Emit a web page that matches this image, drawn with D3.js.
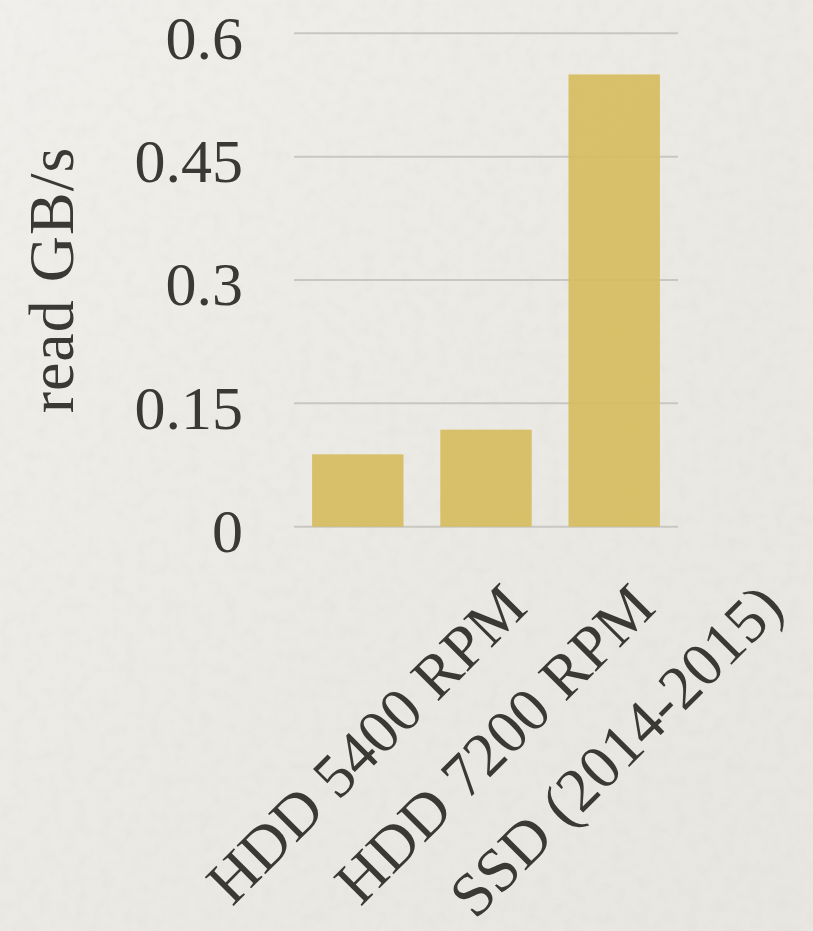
<!DOCTYPE html>
<html>
<head>
<meta charset="utf-8">
<script src="https://cdn.jsdelivr.net/npm/d3@7"></script>
<style>
  html, body { margin: 0; padding: 0; background: #ebe9e4; }
  svg { display: block; }
  text { font-family: "Palatino Linotype", "Book Antiqua", Palatino, "Liberation Serif", serif; fill: #3b3935; }
</style>
</head>
<body>
<svg id="chart" width="813" height="931"></svg>
<script>
// Sequential read throughput by drive type
const categories = ["HDD 5400 RPM", "HDD 7200 RPM", "SSD (2014-2015)"];
const readSpeeds = [0.088, 0.118, 0.55];
const yTicks = [0, 0.15, 0.3, 0.45, 0.6];
const yTickLabels = ["0", "0.15", "0.3", "0.45", "0.6"];
const yTitle = "read GB/s";

const svg = d3.select("#chart");
const W = 813, H = 931;

// paper-like backdrop
const defs = svg.append("defs");
const grad = defs.append("linearGradient").attr("id", "paper")
  .attr("x1", "0").attr("y1", "0").attr("x2", "1").attr("y2", "1");
grad.append("stop").attr("offset", "0").attr("stop-color", "#f1efeb");
grad.append("stop").attr("offset", "0.55").attr("stop-color", "#ebe9e4");
grad.append("stop").attr("offset", "1").attr("stop-color", "#e8e6e1");
const grain = defs.append("filter").attr("id", "grain")
  .attr("x", 0).attr("y", 0).attr("width", "100%").attr("height", "100%");
grain.append("feTurbulence").attr("type", "fractalNoise")
  .attr("baseFrequency", "0.08").attr("numOctaves", 3).attr("seed", 7);
grain.append("feColorMatrix").attr("type", "matrix")
  .attr("values", "0 0 0 0 0.45  0 0 0 0 0.44  0 0 0 0 0.42  0 0 0 -1.1 0.62");

svg.append("rect").attr("width", W).attr("height", H).attr("fill", "url(#paper)");
svg.append("rect").attr("width", W).attr("height", H)
  .attr("filter", "url(#grain)").attr("opacity", 0.12);

const plot = { left: 294, right: 678, top: 33.3, bottom: 526.7 };

const x = d3.scaleBand()
  .domain(categories)
  .range([plot.left, plot.right])
  .paddingInner(0.287)
  .paddingOuter(0.141);

const y = d3.scaleLinear()
  .domain([0, 0.6])
  .range([plot.bottom, plot.top]);

// horizontal gridlines
svg.append("g").selectAll("line")
  .data(yTicks)
  .join("line")
  .attr("x1", plot.left).attr("x2", plot.right)
  .attr("y1", d => y(d)).attr("y2", d => y(d))
  .attr("stroke", "#c9c7c2").attr("stroke-width", 2);

// bars
svg.append("g").selectAll("rect")
  .data(readSpeeds)
  .join("rect")
  .attr("x", (d, i) => x(categories[i]))
  .attr("width", x.bandwidth())
  .attr("y", d => y(d))
  .attr("height", d => y(0) - y(d))
  .attr("fill", "#d6bb5c")
  .attr("fill-opacity", 0.9);

// y axis labels (no domain line, no tick marks)
const yAxis = d3.axisLeft(y)
  .tickValues(yTicks)
  .tickFormat((d, i) => yTickLabels[i])
  .tickSize(0)
  .tickPadding(0);
const gy = svg.append("g")
  .attr("transform", `translate(243,0)`)
  .call(yAxis);
gy.select(".domain").remove();
gy.selectAll("text")
  .attr("font-size", 62)
  .attr("dy", "0.4em")
  .attr("font-family", null)
  .attr("fill", "#3b3935");

// y axis title
svg.append("text")
  .attr("transform", `translate(73, ${(plot.top + plot.bottom) / 2}) rotate(-90)`)
  .attr("text-anchor", "middle")
  .attr("font-size", 64)
  .attr("letter-spacing", 1)
  .text(yTitle);

// category labels, rotated
const xAxis = d3.axisBottom(x).tickSize(0).tickPadding(0);
const gx = svg.append("g")
  .attr("transform", `translate(0, 610)`)
  .call(xAxis);
gx.select(".domain").remove();
gx.selectAll("text")
  .attr("font-family", null)
  .attr("font-size", 62)
  .attr("fill", "#3b3935")
  .attr("text-anchor", "end")
  .attr("dy", 0)
  .attr("y", 0)
  .attr("transform", `translate(${x.bandwidth() / 2 + 126}, 0) rotate(-45)`);
</script>
</body>
</html>
